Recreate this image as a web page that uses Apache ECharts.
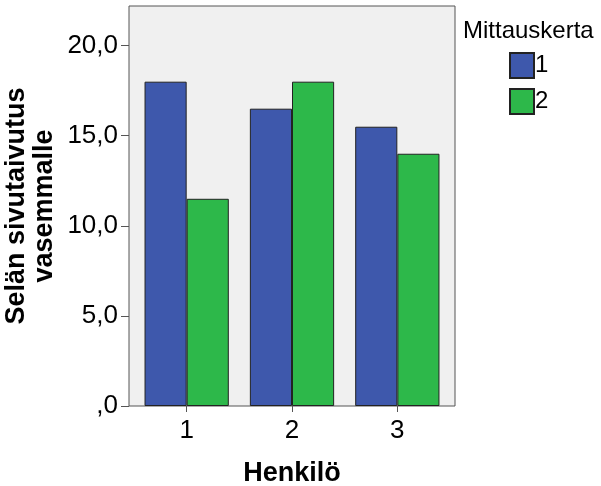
<!DOCTYPE html>
<html>
<head>
<meta charset="utf-8">
<script src="https://cdn.jsdelivr.net/npm/echarts@6/dist/echarts.min.js"></script>
<style>html,body{margin:0;padding:0;background:#fff}#c{width:601px;height:486px}</style>
</head>
<body>
<div id="c"></div>
<script>
var categories = ['1', '2', '3'];
var series1 = [18.0, 16.5, 15.5];
var series2 = [11.5, 18.0, 14.0];
var seriesNames = ['1', '2'];
var yTicks = [0, 5, 10, 15, 20];
var yTitle = 'Selän sivutaivutus\nvasemmalle';

var chart = echarts.init(document.getElementById('c'), null, {renderer: 'canvas'});
var font = 'Liberation Sans, Arial, sans-serif';
chart.setOption({
  animation: false,
  textStyle: {fontFamily: font},
  title: {
    text: 'Mittauskerta', left: 458, top: 14,
    textStyle: {fontFamily: font, fontSize: 24, fontWeight: 'normal', color: '#000'}
  },
  legend: {
    orient: 'vertical', left: 504, top: 47,
    itemWidth: 24, itemHeight: 25, itemGap: 9,
    icon: 'rect',
    textStyle: {fontFamily: font, fontSize: 24, color: '#000', padding: [0, 0, 0, -4]},
    data: seriesNames
  },
  graphic: [{
    type: 'rect', z: -10, silent: true,
    shape: {x: 129, y: 6, width: 326, height: 400},
    style: {fill: '#f0f0f0', stroke: '#555', lineWidth: 1}
  }, {
    type: 'text', silent: true,
    x: 31, y: 206, rotation: Math.PI / 2,
    style: {
      text: yTitle, fontFamily: font, fontSize: 27, fontWeight: 'bold', fill: '#000',
      lineHeight: 28, align: 'center', verticalAlign: 'middle'
    }
  }],
  grid: {left: 134, right: 151, top: 6, bottom: 80, outerBoundsMode: 'none', containLabel: false, show: false},
  xAxis: {
    type: 'category', data: categories,
    name: 'Henkilö', nameLocation: 'middle', nameGap: 54,
    nameTextStyle: {fontFamily: font, fontSize: 27, fontWeight: 'bold', color: '#000'},
    axisLine: {show: false},
    axisTick: {show: true, alignWithLabel: true, length: 6, lineStyle: {color: '#555'}},
    axisLabel: {fontFamily: font, fontSize: 26, color: '#000', margin: 12}
  },
  yAxis: {
    type: 'value', min: 0, max: 22.2, interval: 5, offset: 5,
    splitLine: {show: false},
    axisLine: {show: false},
    axisTick: {show: true, length: 8, lineStyle: {color: '#555'}},
    axisLabel: {
      showMaxLabel: false,
      fontFamily: font, fontSize: 26, color: '#000', margin: 11,
      formatter: function (v) {
        if (yTicks.indexOf(v) < 0) return '';
        return v === 0 ? ',0' : v.toFixed(1).replace('.', ',');
      }
    }
  },
  series: [
    {name: seriesNames[0], type: 'bar', data: series1, barGap: '0%', barCategoryGap: '20%',
     itemStyle: {color: '#3e58ac', borderColor: '#222', borderWidth: 1}},
    {name: seriesNames[1], type: 'bar', data: series2, barGap: '0%', barCategoryGap: '20%',
     itemStyle: {color: '#2db84a', borderColor: '#222', borderWidth: 1}}
  ]
});
</script>
</body>
</html>
